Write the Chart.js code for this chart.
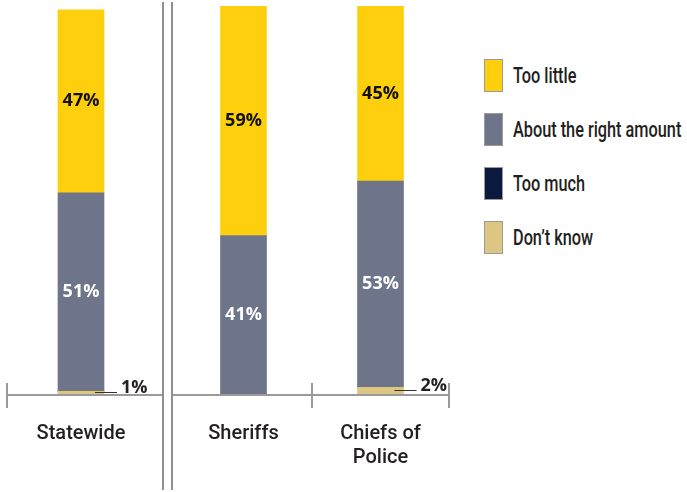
<!DOCTYPE html>
<html>
<head>
<meta charset="utf-8">
<script src="https://cdn.jsdelivr.net/npm/chart.js@4.4.1/dist/chart.umd.min.js"></script>
<style>
  body { margin: 0; background: #fff; }
  #wrap { position: relative; width: 687px; height: 492px; overflow: hidden;
          font-family: "Roboto", sans-serif; }
  #left { position: absolute; left: 0; top: 0; width: 163px; height: 492px; }
  #right { position: absolute; left: 172px; top: 0; width: 280px; height: 492px; }
  .divider { position: absolute; top: 2px; height: 488px; width: 2px; background: #8f8f8f; }
  #legend { position: absolute; left: 484px; top: 59px; margin: 0; padding: 0; list-style: none; }
  #legend li { display: flex; align-items: center; height: 33px; margin-bottom: 21px;
               font-size: 22px; font-weight: 500; color: #231f20; white-space: nowrap; }
  #legend .box { width: 17px; height: 31px; border: 1px solid #9a9a9a; margin-right: 10px; flex: none; }
  #legend .txt { display: inline-block; transform: scaleX(0.74); transform-origin: left center; }
</style>
</head>
<body>
<div id="wrap">
  <div id="left"><canvas id="chartLeft"></canvas></div>
  <div id="right"><canvas id="chartRight"></canvas></div>
  <div class="divider" style="left:162px"></div>
  <div class="divider" style="left:171px"></div>
  <ul id="legend"></ul>
</div>
<script>
// categories (multi-line labels as arrays)
const categories = ['Statewide', 'Sheriffs', ['Chiefs of', 'Police']];

// percent values per category
const tooLittle = [47, 59, 45];
const aboutRight = [51, 41, 53];
const tooMuch = [0, 0, 0];
const dontKnow = [1, 0, 2];

// stacked bottom -> top
function buildDatasets(from, to) {
  return [
    { label: 'Don’t know', data: dontKnow.slice(from, to), backgroundColor: '#DDC583', labelColor: '#231f20' },
    { label: 'Too much', data: tooMuch.slice(from, to), backgroundColor: '#0B1A3E', labelColor: '#ffffff' },
    { label: 'About the right amount', data: aboutRight.slice(from, to), backgroundColor: '#6E7489', labelColor: '#ffffff' },
    { label: 'Too little', data: tooLittle.slice(from, to), backgroundColor: '#FDCF0C', labelColor: '#111111' }
  ];
}

// value labels inside bars, small ones get a leader line
const barLabels = {
  id: 'barLabels',
  afterDatasetsDraw(chart) {
    const ctx = chart.ctx;
    ctx.save();
    ctx.font = '700 18px "Open Sans", sans-serif';
    chart.data.datasets.forEach((ds, di) => {
      const meta = chart.getDatasetMeta(di);
      meta.data.forEach((bar, i) => {
        const v = ds.data[i];
        if (!v) return;
        const label = v + '%';
        const mid = (bar.y + bar.base) / 2;
        if (v >= 5) {
          ctx.fillStyle = ds.labelColor;
          ctx.textAlign = 'center';
          ctx.textBaseline = 'middle';
          ctx.fillText(label, bar.x, mid);
        } else {
          const right = bar.x + bar.width / 2;
          const y = Math.round(mid) - 0.5;
          ctx.strokeStyle = '#333';
          ctx.lineWidth = 1;
          ctx.beginPath();
          ctx.moveTo(right - 9, y);
          ctx.lineTo(right + 13, y);
          ctx.stroke();
          ctx.fillStyle = '#231f20';
          ctx.textAlign = 'left';
          ctx.textBaseline = 'alphabetic';
          ctx.fillText(label, right + 17, y + 0.5);
        }
      });
    });
    ctx.restore();
  }
};

// baseline with tick marks at category boundaries
const axisMarks = {
  id: 'axisMarks',
  afterDraw(chart, args, opts) {
    const { ctx, chartArea } = chart;
    const xs = chart.scales.x;
    const y = chartArea.bottom;
    ctx.save();
    ctx.strokeStyle = '#9a9a9a';
    ctx.lineWidth = 2;
    ctx.beginPath();
    ctx.moveTo(opts.fromEdge ? 0 : chartArea.left, y);
    ctx.lineTo(opts.toEdge ? chart.width : chartArea.right, y);
    opts.boundaries.forEach(b => {
      const px = xs.getPixelForValue(b - 0.5);
      ctx.moveTo(px, y - 12);
      ctx.lineTo(px, y + 13);
    });
    ctx.stroke();
    ctx.restore();
  }
};

function makeChart(id, from, to, padding, marks) {
  return new Chart(document.getElementById(id), {
    type: 'bar',
    data: { labels: categories.slice(from, to), datasets: buildDatasets(from, to) },
    plugins: [barLabels, axisMarks],
    options: {
      responsive: true,
      maintainAspectRatio: false,
      animation: false,
      layout: { padding: padding },
      datasets: { bar: { barThickness: 46 } },
      scales: {
        x: {
          stacked: true,
          grid: { display: false },
          border: { display: false },
          ticks: {
            color: '#231f20',
            font: { family: 'Roboto, sans-serif', size: 20, weight: '500', lineHeight: 1.2 },
            padding: 19,
            maxRotation: 0,
            autoSkip: false
          },
          afterFit: (s) => { s.height = 97; }
        },
        y: { stacked: true, display: false, min: 0, max: 100 }
      },
      plugins: {
        legend: { display: false },
        tooltip: { enabled: false },
        axisMarks: marks
      }
    }
  });
}

const leftChart = makeChart('chartLeft', 0, 1, { left: 7, right: 8, top: 6 }, { boundaries: [0], toEdge: true });
const rightChart = makeChart('chartRight', 1, 3, { left: 3, right: 3, top: 6 }, { boundaries: [1, 2], fromEdge: true });

// legend built from the chart's datasets, top of stack first
const legendEl = document.getElementById('legend');
rightChart.data.datasets.slice().reverse().forEach(ds => {
  const li = document.createElement('li');
  const box = document.createElement('span');
  box.className = 'box';
  box.style.background = ds.backgroundColor;
  const txt = document.createElement('span');
  txt.className = 'txt';
  txt.textContent = ds.label;
  li.appendChild(box);
  li.appendChild(txt);
  legendEl.appendChild(li);
});
</script>
</body>
</html>
